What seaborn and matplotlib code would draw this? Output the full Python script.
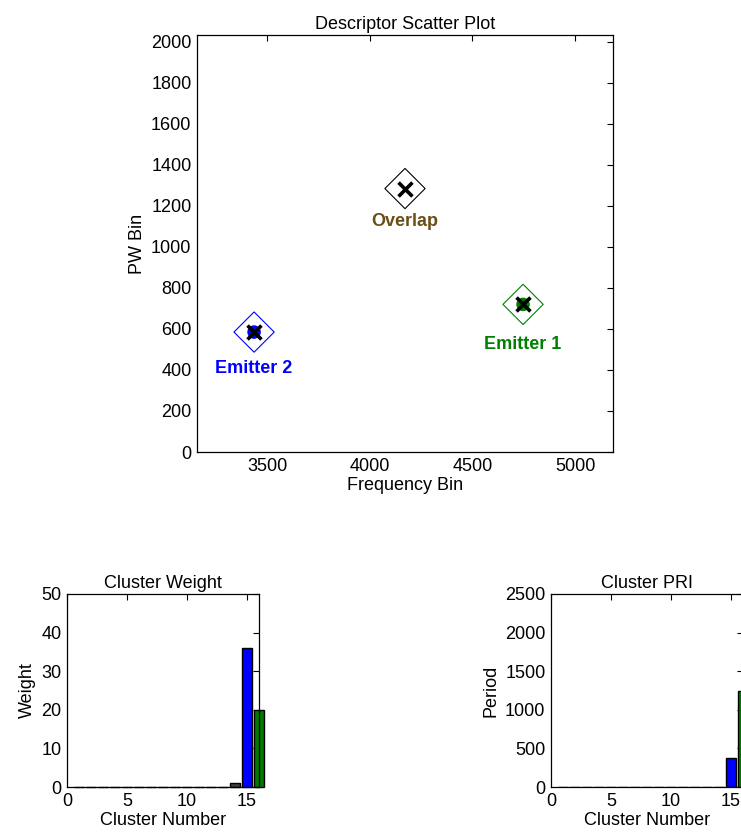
import matplotlib
matplotlib.use("Agg")
import matplotlib.pyplot as plt
import seaborn as sns
import pandas as pd

# ---------------- data ----------------
emitters = ["Emitter 2", "Overlap", "Emitter 1"]
freq_bin = [3437, 4172, 4747]
pw_bin = [585, 1285, 720]

clusters = [1, 2, 3, 4, 5, 6, 7, 8, 9, 10, 11, 12, 13, 14, 15, 16]
weights = [0, 0, 0, 0, 0, 0, 0, 0, 0, 0, 0, 0, 0, 1, 36, 20]
pri = [0, 0, 0, 0, 0, 0, 0, 0, 0, 0, 0, 0, 0, 0, 376, 1243]
cluster_group = ["other"] * 14 + ["Emitter 2", "Emitter 1"]

scatter_xticks = [3500, 4000, 4500, 5000]
scatter_yticks = [0, 200, 400, 600, 800, 1000, 1200, 1400, 1600, 1800, 2000]
bar_xticks = [0, 5, 10, 15]
weight_yticks = [0, 10, 20, 30, 40, 50]
pri_yticks = [0, 500, 1000, 1500, 2000, 2500]

# ---------------- style ----------------
sns.set_style("white")
plt.rcParams["font.family"] = ["Liberation Sans", "DejaVu Sans"]
plt.rcParams["font.size"] = 13
plt.rcParams["text.color"] = "black"
plt.rcParams["axes.labelcolor"] = "black"
plt.rcParams["xtick.color"] = "black"
plt.rcParams["ytick.color"] = "black"

emitter_palette = {"Emitter 2": "#0000FF", "Overlap": "#000000", "Emitter 1": "#008000"}
label_palette = {"Emitter 2": "#0000FF", "Overlap": "#6B4E16", "Emitter 1": "#008000"}
label_offsets = {"Emitter 2": -26, "Overlap": -24, "Emitter 1": -29}
bar_palette = {"other": "#404040", "Emitter 2": "#0000FF", "Emitter 1": "#007A00"}

df_pts = pd.DataFrame({"emitter": emitters, "freq": freq_bin, "pw": pw_bin})
df_bars = pd.DataFrame({"cluster": clusters, "weight": weights, "pri": pri, "group": cluster_group})

fig = plt.figure(figsize=(7.41, 8.36), dpi=100)


def style_axes(ax):
    for sp in ax.spines.values():
        sp.set_visible(True)
        sp.set_color("black")
        sp.set_linewidth(0.9)
    ax.tick_params(direction="in", top=True, right=True, length=4, width=0.8,
                   colors="black", labelcolor="black", labelsize=13, pad=4)


# ---------------- scatter ----------------
ax = fig.add_axes([197 / 741, 1 - 452 / 836, 416 / 741, 417 / 836])
sns.scatterplot(data=df_pts, x="freq", y="pw", hue="emitter", palette=emitter_palette,
                marker="D", s=420, linewidth=0.8, legend=False, ax=ax, zorder=3)
coll = ax.collections[-1]
coll.set_edgecolors(coll.get_facecolors())
coll.set_facecolors("none")

df_dots = df_pts[df_pts["emitter"] != "Overlap"]
sns.scatterplot(data=df_dots, x="freq", y="pw", hue="emitter", palette=emitter_palette,
                marker="o", s=95, linewidth=0, legend=False, ax=ax, zorder=4)
sns.scatterplot(data=df_pts, x="freq", y="pw", marker="x", color="black",
                s=100, linewidth=2.6, legend=False, ax=ax, zorder=5)

for name, xv, yv in zip(emitters, freq_bin, pw_bin):
    ax.annotate(name, (xv, yv), xytext=(0, label_offsets[name]), textcoords="offset points",
                ha="center", va="center", fontsize=13, fontweight="bold",
                color=label_palette[name])

ax.set_xlim(3159, 5185)
ax.set_ylim(0, 2034)
ax.set_xticks(scatter_xticks)
ax.set_yticks(scatter_yticks)
ax.set_xlabel("Frequency Bin", fontsize=13, labelpad=2, color="black")
ax.set_ylabel("PW Bin", fontsize=13, labelpad=4, color="black")
ax.set_title("Descriptor Scatter Plot", fontsize=13, pad=4, color="black")
style_axes(ax)

# ---------------- cluster weight ----------------
ax2 = fig.add_axes([67 / 741, 1 - 787 / 836, 192 / 741, 193 / 836])
sns.barplot(data=df_bars, x="cluster", y="weight", hue="group", palette=bar_palette,
            native_scale=True, dodge=False, width=0.8, edgecolor="black", linewidth=1.0,
            saturation=1, legend=False, ax=ax2, errorbar=None)
for p in ax2.patches:
    p.set_clip_on(False)
ax2.set_xlim(0, 16)
ax2.set_ylim(0, 50)
ax2.set_xticks(bar_xticks)
ax2.set_yticks(weight_yticks)
ax2.set_xlabel("Cluster Number", fontsize=13, labelpad=2, color="black")
ax2.set_ylabel("Weight", fontsize=13, labelpad=4, color="black")
ax2.set_title("Cluster Weight", fontsize=13, pad=4, color="black")
style_axes(ax2)

# ---------------- cluster PRI ----------------
ax3 = fig.add_axes([551 / 741, 1 - 787 / 836, 192 / 741, 193 / 836])
sns.barplot(data=df_bars, x="cluster", y="pri", hue="group", palette=bar_palette,
            native_scale=True, dodge=False, width=0.8, edgecolor="black", linewidth=1.0,
            saturation=1, legend=False, ax=ax3, errorbar=None)
ax3.set_xlim(0, 16)
ax3.set_ylim(0, 2500)
ax3.set_xticks(bar_xticks)
ax3.set_yticks(pri_yticks)
ax3.set_xlabel("Cluster Number", fontsize=13, labelpad=2, color="black")
ax3.set_ylabel("Period", fontsize=13, labelpad=4, color="black")
ax3.set_title("Cluster PRI", fontsize=13, pad=4, color="black")
style_axes(ax3)

fig.savefig("out.png", dpi=100, facecolor="white")
